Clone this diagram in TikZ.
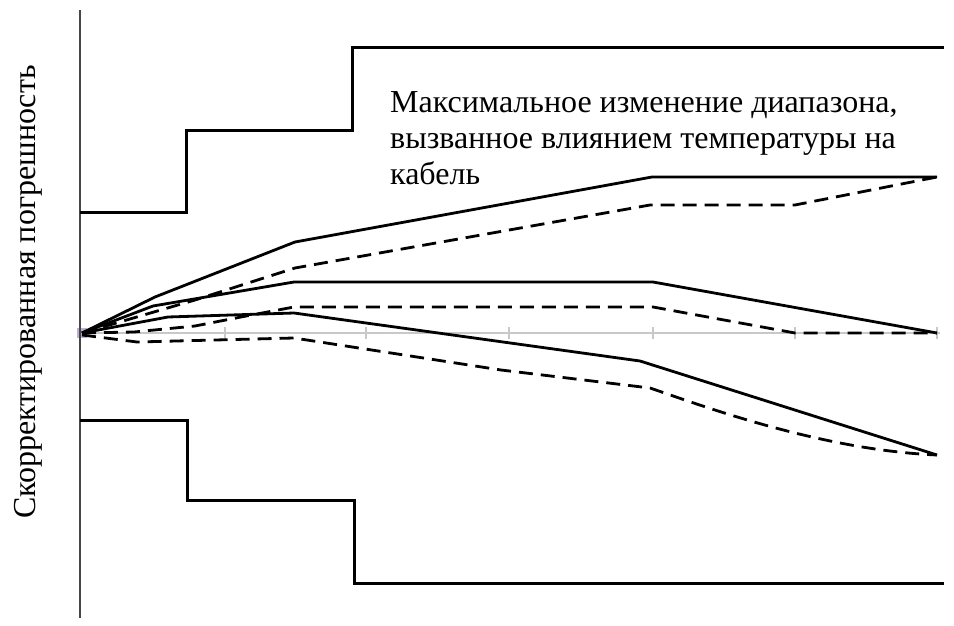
\documentclass[tikz,border=0pt]{standalone}
\usepackage[RGB]{xcolor}
\usepackage{fontspec}
\setmainfont{Liberation Serif}
\usepackage{tikz}
\newcommand{\drawthick}{\draw[line width=3pt]}
\newcommand{\drawsolid}{\draw[line width=2.8pt,line join=round]}
\newcommand{\drawdashed}{\draw[line width=2.8pt,dash pattern=on 14pt off 8pt]}
\definecolor{axisgray}{RGB}{70,70,70}
\definecolor{zerogray}{RGB}{200,200,200}
\definecolor{originmark}{RGB}{190,175,210}
\newcommand{\drawzeroline}[1]{
    \draw[zerogray,line width=2pt] (80,333)--(#1,333);
    \foreach \x in {225,366,509,653,795,937}{
      \draw[zerogray,line width=1.2pt] (\x,327)--(\x,339);
    }
}

\begin{document}
\begin{tikzpicture}[x=1pt,y=-1pt]
\useasboundingbox (0,0) rectangle (954,626);
\drawzeroline{940}
\fill[originmark] (77,328) rectangle (87,338);
\draw[axisgray,line width=2pt] (80,10)--(80,618);
% limits
\drawthick (80,212)--++(106,0)--++(0,-82)--++(166,0)--++(0,-82)--++(592,0);
    \drawthick (80,420)--++(107,0)--++(0,80)--++(167,0)--++(0,83)--++(590,0);
% curves
\drawsolid (82,333)--(155,297)--(295,242)--(652,177)--(937,177);
    \drawdashed (82,333)--(195,300)--(295,268)--(650,205)--(795,205)--(937,177);
    \drawsolid (82,333)--(153,306)--(294,282)--(653,282)--(937,333);
    \drawdashed (82,333)--(134,332)--(195,326)--(241,317)--(294,307)--(653,307)--(795,333)--(937,333);
    \drawsolid (82,333)--(168,317)--(294,313)--(640,361)--(937,455);
    \drawdashed (82,335)--(137,342)--(294,338)--(501,370)--(650,388) .. controls (700,405) and (820,450) .. (937,455);
\node[anchor=north west,inner sep=0pt,align=left,font=\fontsize{32}{36}\selectfont] (note) at (390,91) {Максимальное изменение диапазона,\\вызванное влиянием температуры на\\кабель};
\node[rotate=90,anchor=base,inner sep=0pt,font=\fontsize{32}{36}\selectfont] (ylabel) at (35,292) {Скорректированная погрешность};
\end{tikzpicture}
\end{document}
